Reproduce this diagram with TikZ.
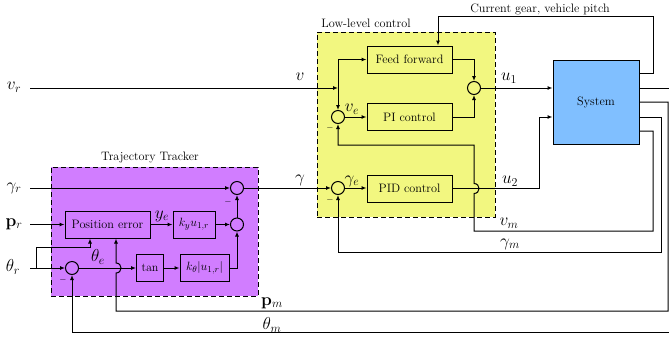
\documentclass[tikz,border=0pt]{standalone}
\usetikzlibrary{arrows.meta}
\definecolor{llyel}{rgb}{0.95,0.97,0.5}
\definecolor{ttpur}{rgb}{0.82,0.49,1}
\definecolor{sysblue}{rgb}{0.5,0.75,1}
\begin{document}
\begin{tikzpicture}[x=1pt,y=-1pt,
  font=\fontsize{12.2}{14.6}\selectfont,
  line width=1pt, >={Latex[length=5pt,width=4pt]},
  blk/.style={draw,line width=1pt,minimum height=27pt,inner sep=0pt},
  sumc/.style={draw,circle,minimum size=13pt,inner sep=0pt},
  grp/.style={draw,line width=1pt,dash pattern=on 5pt off 3pt,inner sep=0pt},
  lbl/.style={inner sep=0pt},
  sl/.style={inner sep=0pt,font=\fontsize{16.5}{19}\selectfont},
  minus/.style={inner sep=0pt,font=\small}
]
\useasboundingbox (0,0) rectangle (669,341);

% group boxes
\node[grp,fill=llyel,minimum width=178pt,minimum height=185pt] (ll) at (406,124.5) {};
\node[grp,fill=ttpur,minimum width=207pt,minimum height=129pt] (tt) at (154.5,231.5) {};
\node[lbl] (lllbl) at (366,23) {Low-level control};
\node[lbl] (ttlbl) at (150,158) {Trajectory Tracker};

% blocks
\node[blk,fill=sysblue,minimum width=86pt,minimum height=84pt] (sys) at (596,102) {System};
\node[blk,minimum width=85pt] (ff) at (409.5,59.5) {Feed forward};
\node[blk,minimum width=85pt] (pi) at (409.5,117) {PI control};
\node[blk,minimum width=85pt] (pid) at (409.5,188.5) {PID control};
\node[sumc] (s1) at (474,88) {};
\node[sumc] (sv) at (338,117) {};
\node[sumc] (sg) at (338,188) {};

\node[blk,minimum width=85pt] (pe) at (107.5,224.5) {Position error};
\node[blk,minimum width=42pt] (ky) at (194,224.5) {$k_y u_{1,r}$};
\node[blk,minimum width=27pt] (tan) at (150,268) {$\tan$};
\node[blk,minimum width=49pt] (kth) at (204.5,268) {$k_\theta |u_{1,r}|$};
\node[sumc] (c1) at (237,188) {};
\node[sumc] (c2) at (237,224.5) {};
\node[sumc] (ct) at (72,268) {};

% input labels and start points
\node[sl] (vr) at (14,87) {$v_r$};
\node[sl] (gr) at (14,188) {$\gamma_r$};
\node[sl] (pr) at (14,224) {$\mathbf{p}_r$};
\node[sl] (thr) at (13,267) {$\theta_r$};
\coordinate (vri) at (30,88);
\coordinate (gri) at (30,188);
\coordinate (pri) at (30,224.5);
\coordinate (tri) at (30,268);
\coordinate (tb) at (36,268);
\coordinate (jv) at (338,88);

% low-level control
\draw[->] (vri) -- (jv);
\draw[->] (jv) |- (ff.west);
\draw[->] (jv) -- (sv.north);
\draw[->] (ff.east) -| (s1.north);
\draw[->] (pi.east) -| (s1.south);
\draw[->] (sv.east) -- (sv.east -| pi.west);
\draw[->] (sg.east) -- (sg.east -| pid.west);
\draw[->] (s1.east) -- (s1.east -| sys.west);
\draw[->] (pid.east) -- (539,188.5) -- (539,117) -- (sys.west |- 0,117);

% feedback from system
\draw[->] (sys.east |- 0,73) -- (653,73) -- (653,16) -- (438,16) -- (ff.north -| 438,0);
\draw[->] (sys.east |- 0,131) -- (653,131) -- (653,231) -- (474,231) -- (474,193.5)
  .. controls (480.7,193.5) and (480.7,183.5) .. (474,183.5) -- (474,145) -- (338,145) -- (sv.south);
\draw[->] (sys.east |- 0,117) -- (661,117) -- (661,252) -- (sg.south |- 0,252) -- (sg.south);
\draw[->] (sys.east |- 0,102) -- (668,102) -- (668,311) -- (116,311) -- (116,273)
  .. controls (122.7,273) and (122.7,263) .. (116,263) -- (pe.south -| 116,0);
\draw[->] (sys.east |- 0,88) -- (675,88) -- (675,332) -- (ct.south |- 0,332) -- (ct.south);

% trajectory tracker
\draw[->] (gri) -- (c1.west);
\draw[->] (pri) -- (pe.west);
\draw[->] (tri) -- (ct.west);
\draw[->] (tb) -- (36,247) -- (90,247) -- (pe.south -| 90,0);
\draw[->] (ct.east) -- (tan.west);
\draw[->] (tan.east) -- (kth.west);
\draw[->] (kth.east) -| (c2.south);
\draw[->] (pe.east) -- (ky.west);
\draw[->] (ky.east) -- (c2.west);
\draw[->] (c2.north) -- (c1.south);
\draw[->] (c1.east) -- (sg.west);

% signal labels
\node[sl] (lye) at (162,216) {$y_e$};
\node[sl] (lthe) at (98,257) {$\theta_e$};
\node[sl] (lv) at (300,77) {$v$};
\node[sl] (lg) at (300,180) {$\gamma$};
\node[sl] (lve) at (352,109) {$v_e$};
\node[sl] (lge) at (352,181) {$\gamma_e$};
\node[sl] (lu1) at (509,78) {$u_1$};
\node[sl] (lu2) at (510,181) {$u_2$};
\node[sl] (lvm) at (509,223) {$v_m$};
\node[sl] (lgm) at (510,244) {$\gamma_m$};
\node[sl] (lpm) at (272,303) {$\mathbf{p}_m$};
\node[sl] (ltm) at (272,325) {$\theta_m$};
\node[lbl] (lcg) at (540,9) {Current gear, vehicle pitch};

% minus signs
\node[minus] (m1) at (228,202) {$-$};
\node[minus] (m2) at (63,280) {$-$};
\node[minus] (m3) at (330,128) {$-$};
\node[minus] (m4) at (330,200) {$-$};
\end{tikzpicture}
\end{document}
